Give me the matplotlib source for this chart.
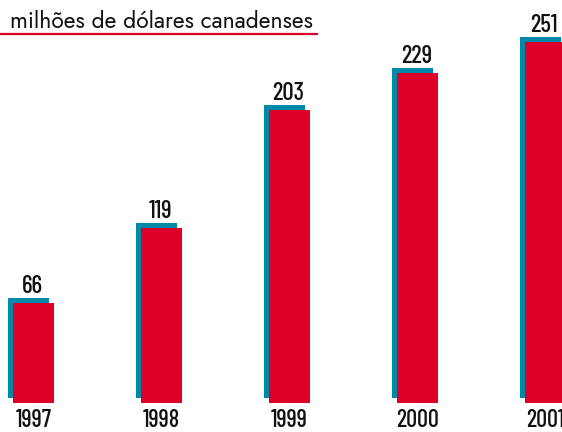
import matplotlib
import matplotlib.pyplot as plt
import numpy as np
plt.switch_backend('agg')

matplotlib.rcParams['font.family'] = ['Barlow Condensed', 'DejaVu Sans']

years = ['1997', '1998', '1999', '2000', '2001']
values = [66, 119, 203, 229, 251]
title = 'milhões de dólares canadenses'

red = '#DC0028'
teal = '#0088A8'

if __name__ == '__main__':
	fig = plt.figure(figsize=(5.62, 4.32), dpi=100)
	ax = fig.add_axes([0, 0, 1, 1])
	x = np.arange(len(values))
	w = 0.32
	base = -5  # bars start a little below zero
	heights = np.array(values) - base
	# shadow bar shifted left and up
	ax.bar(x - 0.039, heights, width=w, bottom=base + 3.5, color=teal, align='center', zorder=1)
	ax.bar(x, heights, width=w, bottom=base, color=red, align='center', zorder=2)
	for xi, v, yr in zip(x, values, years):
		ax.text(xi - 0.01, v + 7, str(v), ha='center', va='baseline', fontsize=18,
			fontweight='medium', color='#111111')
		ax.text(xi, -21.8, yr, ha='center', va='baseline', fontsize=17.5,
			fontweight='medium', color='#111111')
	ax.set_xlim(-0.262, 4.129)
	ax.set_ylim(-25.5, 280.9)
	ax.axis('off')

	fig.text(10 / 562, 1 - 28 / 432, title, ha='left', va='baseline', fontsize=16.5,
		family=['Jost', 'DejaVu Sans'], color='#111111')
	fig.add_artist(matplotlib.lines.Line2D([0, 317 / 562], [1 - 34 / 432] * 2, color=red, lw=1.6))

	plt.savefig('out.png', dpi=100)
